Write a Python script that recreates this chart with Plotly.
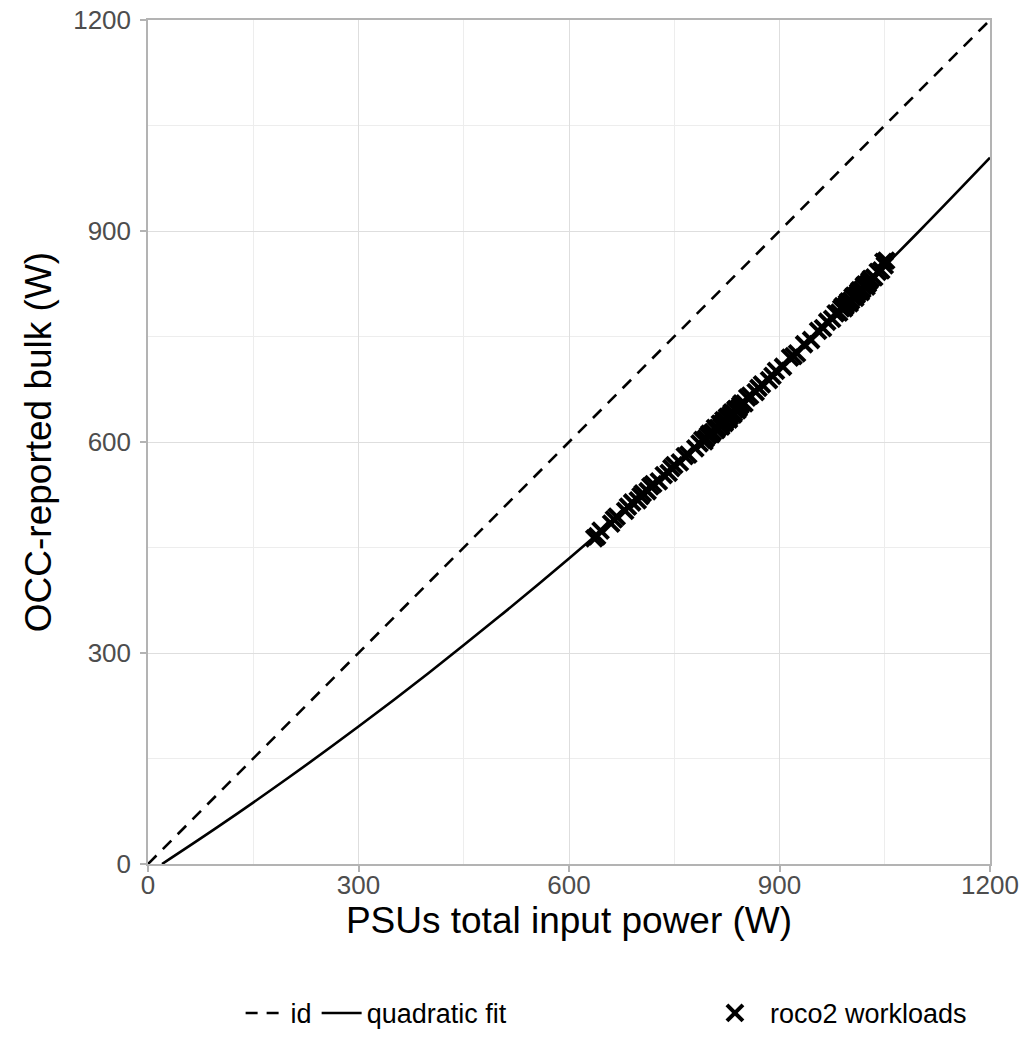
import plotly.graph_objects as go

# identity line
id_x = [0, 1200]
id_y = [0, 1200]

# quadratic fit
fit_x = [20, 100, 200, 300, 400, 500, 600, 700, 800, 900, 1000, 1100, 1200]
fit_y = [0.0, 53.1, 122.6, 195.4, 271.7, 351.4, 434.4, 520.9, 610.7, 704.0, 800.7, 900.7, 1004.2]

pts_x = [636, 640, 645, 660, 664, 668, 680, 684, 690, 698, 702, 705, 712, 716, 720, 728,
         735, 742, 746, 750, 758, 765, 770, 780, 786, 790, 793, 795, 798, 800, 803, 805,
         808, 810, 812, 815, 817, 818, 820, 822, 823, 825, 826, 828, 829, 831, 832, 834,
         835, 837, 838, 840, 842, 844, 846, 850, 854, 858, 866, 870, 875, 885, 890, 895,
         905, 915, 920, 925, 935, 945, 955, 962, 968, 975, 980, 985, 988, 990, 992, 994,
         996, 998, 1000, 1002, 1004, 1006, 1008, 1010, 1012, 1014, 1016, 1018, 1020,
         1022, 1024, 1026, 1028, 1030, 1035, 1040, 1045, 1048, 1050, 1052]
pts_y = [463, 466, 474, 484, 490, 494, 502, 508, 514, 517, 523, 527, 530, 537, 540, 544,
         553, 556, 563, 567, 571, 580, 582, 591, 598, 603, 601, 605, 609, 612, 611, 614,
         620, 617, 620, 626, 622, 626, 631, 627, 630, 635, 636, 632, 636, 640, 642, 639,
         641, 646, 647, 645, 648, 652, 655, 655, 663, 666, 671, 677, 682, 688, 694, 701,
         707, 720, 722, 726, 739, 745, 758, 762, 771, 775, 783, 784, 790, 793, 790, 793,
         797, 800, 797, 801, 806, 808, 805, 809, 813, 816, 813, 817, 822, 824, 821, 825,
         829, 832, 834, 842, 844, 856, 851, 858]

ticks = [0, 300, 600, 900, 1200]
tick_text = ["0", "300", "600", "900", "1200"]

FONT = "Liberation Sans, Arial, sans-serif"

fig = go.Figure()
fig.add_trace(go.Scatter(x=id_x, y=id_y, mode="lines", name="id",
                         line=dict(color="black", width=2.6, dash="12px,9px"),
                         legend="legend"))
fig.add_trace(go.Scatter(x=fit_x, y=fit_y, mode="lines", name="quadratic fit",
                         line=dict(color="black", width=2.6, shape="spline"),
                         legend="legend"))
fig.add_trace(go.Scatter(x=pts_x, y=pts_y, mode="markers", name="roco2 workloads",
                         marker=dict(symbol="x-thin", size=16, color="black",
                                     line=dict(color="black", width=4)),
                         legend="legend2"))

axis_common = dict(
    range=[0, 1200], tickvals=ticks, ticktext=tick_text,
    showgrid=True, gridcolor="#DEDEDE", gridwidth=1.2,
    minor=dict(dtick=150, showgrid=True, gridcolor="#EDEDED", gridwidth=0.8),
    zeroline=False, showline=True, linecolor="#B3B3B3", linewidth=1.5, mirror=True,
    ticks="outside", ticklen=6, tickcolor="#B3B3B3", tickwidth=1.5,
    tickfont=dict(family=FONT, size=26, color="#4D4D4D"),
)

fig.update_layout(
    width=1030, height=1058,
    margin=dict(l=148, r=40, t=20, b=194),
    paper_bgcolor="white", plot_bgcolor="white",
    font=dict(family=FONT, color="black"),
    xaxis=dict(**axis_common, automargin="bottom", ticklabelstandoff=-9,
               title=dict(text="PSUs total input power (W)",
                          font=dict(size=37, color="black"), standoff=0)),
    yaxis=dict(**axis_common, automargin="left", ticklabelstandoff=4,
               title=dict(text="OCC-reported bulk (W)",
                          font=dict(size=37, color="black"), standoff=10)),
    legend=dict(orientation="h", x=0.110, xanchor="left", y=-0.177, yanchor="middle",
                font=dict(size=27, color="black"), bgcolor="rgba(0,0,0,0)",
                itemwidth=40, tracegroupgap=0),
    legend2=dict(orientation="h", x=0.6555, xanchor="left", y=-0.177, yanchor="middle",
                 font=dict(size=27, color="black"), bgcolor="rgba(0,0,0,0)",
                 itemwidth=60),
    showlegend=True,
)

fig.write_html("out.html")
